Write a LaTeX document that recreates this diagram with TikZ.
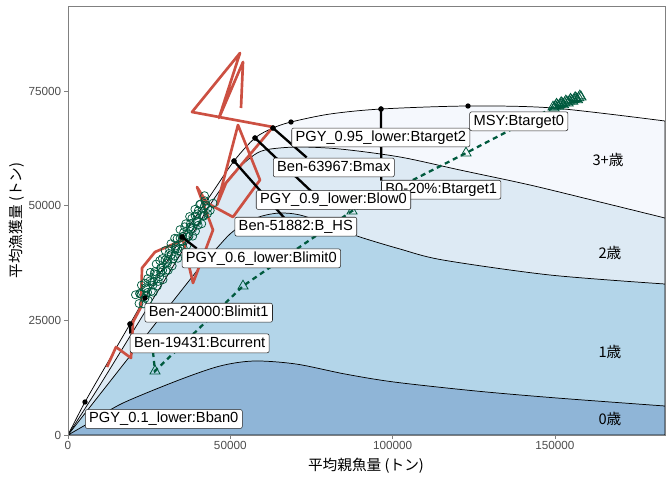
\documentclass[tikz,border=0pt]{standalone}
\usepackage{fontspec}
\setmainfont{Liberation Sans}
\newfontfamily\jpfont{Noto Sans CJK JP}
\usetikzlibrary{calc,shapes.geometric}
\definecolor{age0}{RGB}{143,181,215}
\definecolor{age1}{RGB}{179,213,233}
\definecolor{age2}{RGB}{221,234,244}
\definecolor{age3}{RGB}{245,248,253}
\definecolor{hist}{RGB}{204,80,66}
\definecolor{futr}{RGB}{0,90,62}
\definecolor{axisgray}{RGB}{77,77,77}

\begin{document}
\begin{tikzpicture}[x=0.75pt,y=-0.75pt,
  curve/.style={draw=black,line width=0.55pt},
  refdot/.style={circle,fill=black,inner sep=0pt,minimum size=4pt},
  reflabel/.style={draw=black!85,fill=white,rounded corners=1.5pt,line width=0.4pt,
    font=\fontsize{11}{13}\selectfont,text height=8.2pt,text depth=2.4pt,inner xsep=2.9pt,inner ysep=1.8pt},
  seg/.style={line width=1.75pt},
  agelabel/.style={font=\jpfont\fontsize{11}{13}\selectfont},
  ticklabel/.style={font=\fontsize{8.8}{10}\selectfont,text=axisgray,inner sep=0pt},
  simcirc/.style={circle,draw=futr,line width=0.55pt,minimum size=6pt,inner sep=0pt},
  simtri/.style={regular polygon,regular polygon sides=3,draw=futr,line width=0.6pt,minimum size=8.7pt,inner sep=0pt},
  ]
  \useasboundingbox (0,0) rectangle (672,480);

  \begin{scope}
    \clip (68,6) rectangle (665,435);
    % stacked catch by age
    \filldraw[curve,fill=age3] plot[smooth] coordinates {(68,435) (85,402) (108,362) (130,324) (145,298) (182,237) (210,196) (234,161) (255,138) (273,128) (291,122) (330,114) (381,109) (468,106) (553,108) (665,121)} -- (665,435) -- cycle;
    \filldraw[curve,fill=age2] plot[smooth] coordinates {(68,435) (100,385) (140,320) (180,255) (210,205) (230,177) (250,158) (265,150) (297,147) (340,149) (400,157) (460,170) (530,185) (600,202) (665,218)} -- (665,435) -- cycle;
    \filldraw[curve,fill=age1] plot[smooth] coordinates {(68,435) (130,356) (200,267) (217,248) (230,234) (245,223) (262,216) (280,213) (300,215) (330,225) (357,236) (400,249) (443,260) (550,275) (665,284)} -- (665,435) -- cycle;
    \filldraw[curve,fill=age0] plot[smooth] coordinates {(68,435) (94,420) (123,403) (179,380) (220,366) (254,361) (296,364) (345,374) (394,382) (476,391) (557,398) (665,406)} -- (665,435) -- cycle;

    \draw[hist,line width=2pt,line join=round] (107,367) -- (116,347) -- (131,358) -- (133,322) -- (141,307) -- (142,268) -- (155,252) -- (183,240) -- (193,283) -- (213,230) -- (197,187) -- (207,203) -- (233,217) -- (260,180) -- (238,125) -- (217,205) -- (226,183) -- (273,127) -- (192,112) -- (240,53) -- (219,118) -- (243,62) -- (241,108);

    \foreach \i in {0,...,99}{
      \pgfmathsetmacro\cx{139+70*\i/99+5*sin(\i*137)}
      \pgfmathsetmacro\cy{301-100*\i/99+3.5*sin(\i*137)+2.5*cos(\i*53)}
      \node[simcirc] (c\i) at (\cx,\cy) {};
    }
    \foreach \i in {0,...,24}{
      \pgfmathsetmacro\tx{553+28*\i/24}
      \pgfmathsetmacro\ty{107-10*\i/24+1.5*sin(\i*90)}
      \node[simtri] (tc\i) at (\tx,\ty) {};
    }
  \end{scope}

  \node[simtri] (t1) at (155,371) {};
  \node[simtri] (t2) at (243,286) {};
  \node[simtri] (t3) at (352,211) {};
  \node[simtri] (t4) at (466,153) {};
  \fill[futr] (t1.center) circle (1.3pt);
  \coordinate (tstart) at (153,352);
  \draw[futr,line width=1.7pt,dash pattern=on 3.75pt off 3pt] (tstart) -- (t1.center) -- (t2.center) -- (t3.center) -- (t4.center) -- (tc4.center);

  \node[refdot] (d01) at (85,402) {};
  \node[refdot] (d19431) at (130,324) {};
  \node[refdot] (d24000) at (145,298) {};
  \node[refdot] (d06) at (182,237) {};
  \node[refdot] (d51882) at (234,161) {};
  \node[refdot] (d09) at (255,138) {};
  \node[refdot] (d63967) at (273,128) {};
  \node[refdot] (d095) at (291,122) {};
  \node[refdot] (dB020) at (381,109) {};
  \node[refdot] (dmsy) at (468,106) {};

  \coordinate (e63967) at (306.7,157.5);
  \coordinate (e09) at (312,192);
  \coordinate (e51882) at (284.8,218.5);
  \coordinate (e06) at (196.7,248.5);
  \coordinate (eB020) at (381.3,180.5);
  \coordinate (e19431) at (130.3,333.5);
  \foreach \n in {63967,09,51882,06,B020,19431}
    \draw[seg] (d\n.center) -- (e\n);
  \foreach \n in {63967,09,51882,06,B020,19431}
    \fill (d\n) circle (2pt);

  \node[reflabel] (lB020) at (441.2,189.7) {B0-20\%:Btarget1};
  \node[reflabel] (l095) at (380.8,137.5) {PGY\_0.95\_lower:Btarget2};
  \node[reflabel] (lmsy) at (518.8,121.3) {MSY:Btarget0};
  \node[reflabel] (l63967) at (333.8,167.5) {Ben-63967:Bmax};
  \node[reflabel] (l09) at (333.5,200) {PGY\_0.9\_lower:Blow0};
  \node[reflabel] (l51882) at (295.8,226.7) {Ben-51882:B\_HS};
  \node[reflabel] (l06) at (261.3,258.3) {PGY\_0.6\_lower:Blimit0};
  \node[reflabel] (l24000) at (208.7,312.7) {Ben-24000:Blimit1};
  \node[reflabel] (l19431) at (199.7,343.3) {Ben-19431:Bcurrent};
  \node[reflabel] (l01) at (163.8,419) {PGY\_0.1\_lower:Bban0};

  \node[agelabel] (a3) at (608,160) {3+歳};
  \node[agelabel] (a2) at (610,253) {2歳};
  \node[agelabel] (a1) at (610,352) {1歳};
  \node[agelabel] (a0) at (610,419) {0歳};

  \draw[black!50,line width=0.5pt] (68,6) rectangle (665,435);
  \foreach \v/\p in {0/68,50000/230.3,100000/392.6,150000/554.9}{
    \draw[black!50,line width=0.5pt] (\p,435) -- (\p,439);
    \node[ticklabel,anchor=base] (xt\v) at (\p,449.5) {\v};
  }
  \foreach \v/\p in {0/435,25000/320.3,50000/205.7,75000/91}{
    \draw[black!50,line width=0.5pt] (64,\p) -- (68,\p);
    \node[ticklabel,anchor=east] (yt\v) at (61.5,\p) {\v};
  }
  \node[font=\jpfont\fontsize{11}{13}\selectfont] (xtitle) at (366,466) {平均親魚量 (トン)};
  \node[font=\jpfont\fontsize{11}{13}\selectfont,rotate=90] (ytitle) at (17,220.5) {平均漁獲量 (トン)};
\end{tikzpicture}
\end{document}
